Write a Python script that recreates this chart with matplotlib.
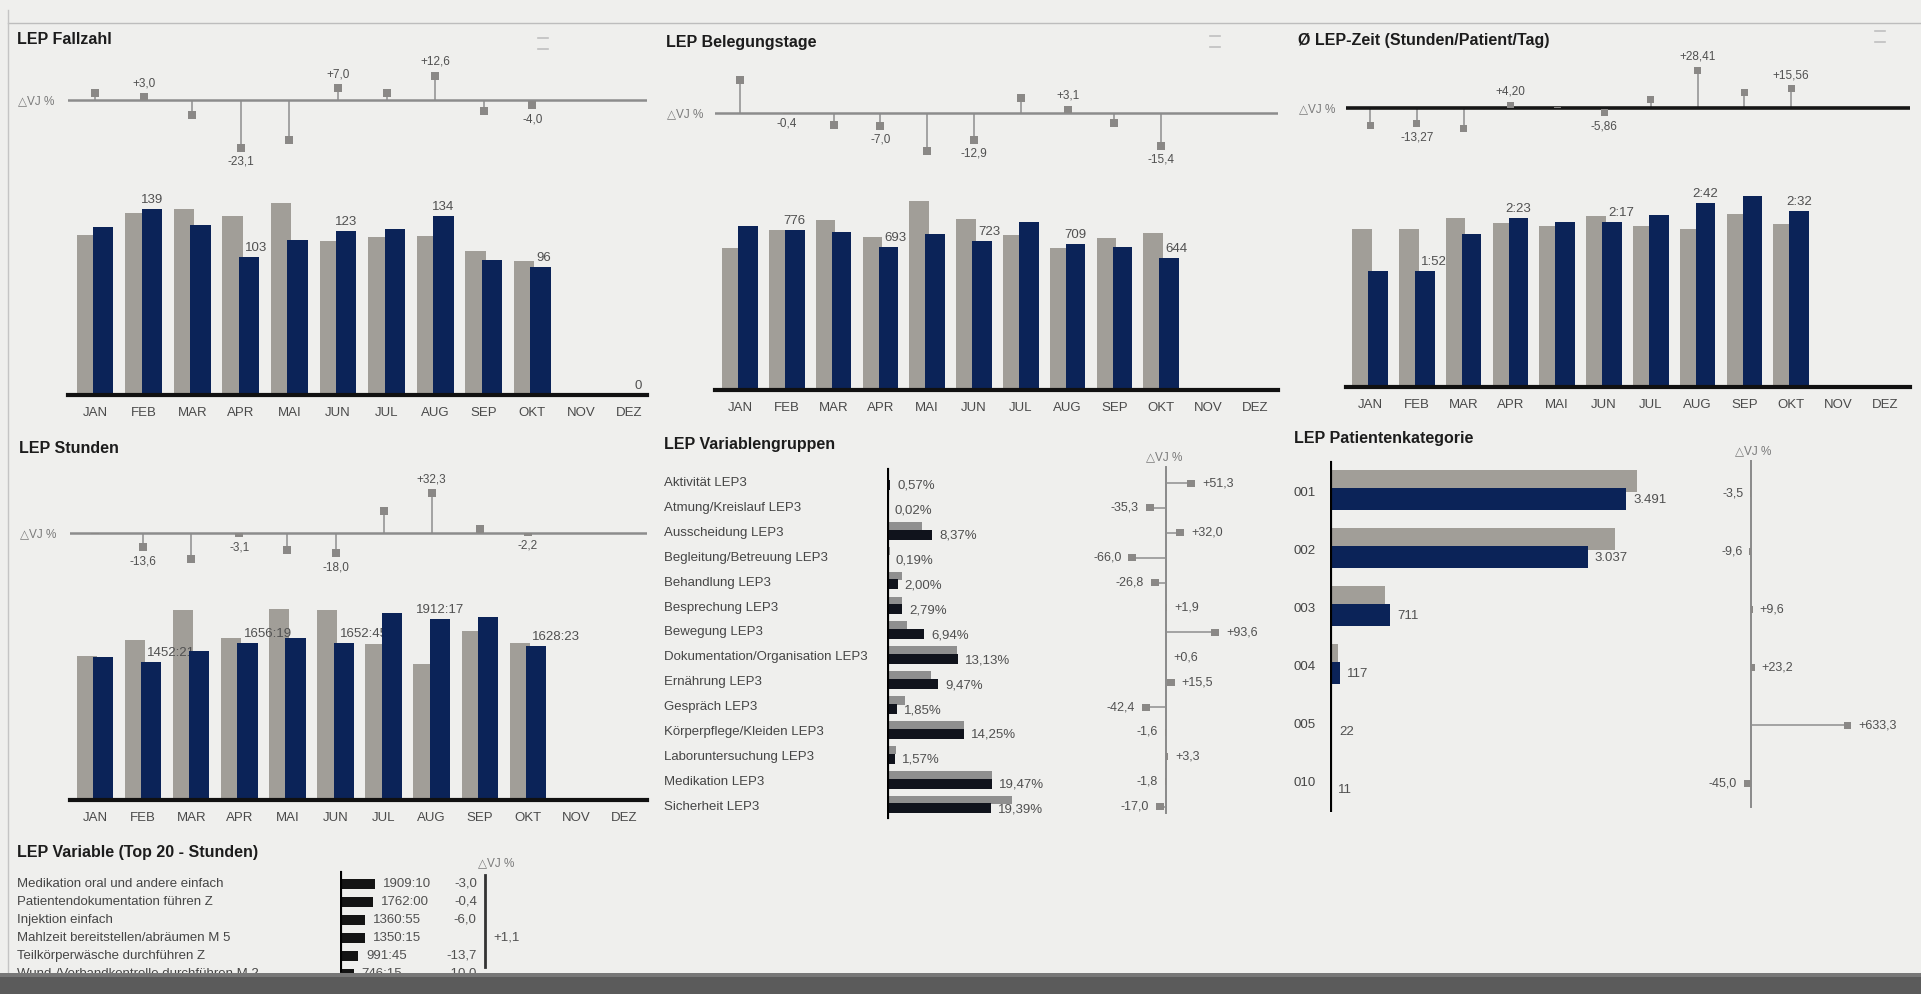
import numpy as np
import matplotlib
matplotlib.use('Agg')
import matplotlib.pyplot as plt
from matplotlib import transforms
from matplotlib.lines import Line2D
from matplotlib.patches import Rectangle

nan = np.nan
months = ['JAN', 'FEB', 'MAR', 'APR', 'MAI', 'JUN', 'JUL', 'AUG', 'SEP', 'OKT', 'NOV', 'DEZ']

# LEP Fallzahl
fall_prev = [120, 136, 139, 134, 144, 115, 118, 119, 108, 100, nan, nan]
fall_curr = [126, 139, 127, 103, 116, 123, 124, 134, 101, 96, nan, 0]
fall_dvj = [5.0, 3.0, -8.6, -23.1, -19.4, 7.0, 5.1, 12.6, -6.5, -4.0, nan, nan]

# LEP Belegungstage
beleg_prev = [692, 779, 826, 745, 919, 830, 754, 688, 737, 761, nan, nan]
beleg_curr = [799, 776, 770, 693, 757, 723, 815, 709, 695, 644, nan, nan]
beleg_dvj = [15.5, -0.4, -6.8, -7.0, -17.6, -12.9, 8.1, 3.1, -5.7, -15.4, nan, nan]

# Ø LEP-Zeit (h.mm values as plotted)
zeit_prev = [2.08, 2.08, 2.23, 2.16, 2.12, 2.25, 2.12, 2.08, 2.28, 2.14, nan, nan]
zeit_curr = [1.52, 1.52, 2.01, 2.23, 2.17, 2.17, 2.26, 2.42, 2.51, 2.32, nan, nan]
zeit_dvj = [-14.7, -13.27, -16.5, 4.20, 0.8, -5.86, 8.2, 28.41, 13.4, 15.56, nan, nan]

# LEP Stunden (hours)
stund_prev = [1518, 1687, 2007, 1708, 2021, 2011, 1644, 1437, 1785, 1655, nan, nan]
stund_curr = [1514, 1452.35, 1577, 1656.3167, 1715, 1652.75, 1972, 1912.2833, 1937, 1628.3833, nan, nan]
stund_dvj = [-0.5, -13.6, -22.5, -3.1, -15.4, -18.0, 19.5, 32.3, 6.0, -2.2, nan, nan]

# LEP Variablengruppen
vg_cats = ['Aktivität LEP3', 'Atmung/Kreislauf LEP3', 'Ausscheidung LEP3', 'Begleitung/Betreuung LEP3',
           'Behandlung LEP3', 'Besprechung LEP3', 'Bewegung LEP3', 'Dokumentation/Organisation LEP3',
           'Ernährung LEP3', 'Gespräch LEP3', 'Körperpflege/Kleiden LEP3', 'Laboruntersuchung LEP3',
           'Medikation LEP3', 'Sicherheit LEP3']
vg_curr = [0.57, 0.02, 8.37, 0.19, 2.00, 2.79, 6.94, 13.13, 9.47, 1.85, 14.25, 1.57, 19.47, 19.39]
vg_prev = [0.3, 0.03, 6.5, 0.5, 2.8, 2.8, 3.7, 13.1, 8.2, 3.4, 14.4, 1.7, 19.6, 23.3]
vg_dvj = [51.3, -35.3, 32.0, -66.0, -26.8, 1.9, 93.6, 0.6, 15.5, -42.4, -1.6, 3.3, -1.8, -17.0]

# LEP Patientenkategorie
pk_cats = ['001', '002', '003', '004', '005', '010']
pk_curr = [3491, 3037, 711, 117, 22, 11]
pk_prev = [3618, 3360, 649, 95, 3, 20]
pk_dvj = [-3.5, -9.6, 9.6, 23.2, 633.3, -45.0]

# LEP Variable (Top 20 - Stunden)
tv_names = ['Medikation oral und andere einfach', 'Patientendokumentation führen Z', 'Injektion einfach',
            'Mahlzeit bereitstellen/abräumen M 5', 'Teilkörperwäsche durchführen Z',
            'Wund-/Verbandkontrolle durchführen M 2']
tv_hours = [1909 + 10/60, 1762.0, 1360 + 55/60, 1350 + 15/60, 991 + 45/60, 746 + 15/60]
tv_dvj = [-3.0, -0.4, -6.0, 1.1, -13.7, -10.0]

# ---------------------------------------------------------------- styling
W, H = 1921, 994
BG = '#efefed'
GREY = '#a19e98'
NAVY = '#0b2358'
STEMC = '#8e8e8e'
MARKC = '#8a8886'
TXT = '#505050'
LBL = '#454545'

plt.rcParams['font.family'] = ['Liberation Sans', 'DejaVu Sans']
fig = plt.figure(figsize=(W / 100, H / 100), dpi=100)
fig.patch.set_facecolor(BG)


def px_axes(x0, y0, x1, y1):
    ax = fig.add_axes([x0 / W, 1 - y1 / H, (x1 - x0) / W, (y1 - y0) / H])
    ax.set_axis_off()
    return ax


def ftext(x, y, s, **kw):
    return fig.text(x / W, 1 - y / H, s, **kw)


def title(x, y, s):
    ftext(x, y, s, fontsize=11.5, fontweight='bold', color='#1c1c1c', va='center', ha='left')


def fmt1(v):
    return f"{v:+.1f}".replace('.', ',')


def fmt2(v):
    return f"{v:+.2f}".replace('.', ',')


def hm(v):
    h = int(v)
    m = int(round((v - h) * 60))
    return f"{h}:{m:02d}"


def inner_end(vals, mark_len):
    v = np.asarray(vals, float)
    return np.sign(v) * np.maximum(np.abs(v) - mark_len, 0)


def month_panel(ttl, txy, x0, x1, tick0, step, stem_y, stem_scale, stem_lw, stem_col,
                bar_y, bar_top, unit_px, prev, curr, dvj, bar_fmt, dvj_fmt, bar_idx, mpx=8):
    title(txy[0], txy[1], ttl)
    ftext(txy[0] + 1, stem_y + 1, '△VJ %', fontsize=8.5, color='#7a7a7a', va='center')
    xl = ((x0 - tick0) / step, (x1 - tick0) / step)
    up, down = 60, 80
    sa = px_axes(x0, stem_y - up, x1, stem_y + down)
    sa.set_xlim(xl)
    sa.set_ylim(-down / stem_scale, up / stem_scale)
    idx = np.arange(len(months))
    d = np.asarray(dvj, float)
    ok = ~np.isnan(d)
    inner = inner_end(d[ok], mpx / stem_scale)
    sa.vlines(idx[ok], 0, d[ok], color=STEMC, lw=1.1, zorder=1)
    sa.bar(idx[ok], d[ok] - inner, bottom=inner, width=mpx / step, color=MARKC, zorder=3)
    sa.axhline(0, color=stem_col, lw=stem_lw, zorder=2)
    for i in bar_idx:
        if np.isnan(d[i]):
            continue
        pos = d[i] >= 0
        sa.annotate(dvj_fmt(d[i]), (i, d[i]), xytext=(0, 4 if pos else -4), textcoords='offset pixels',
                    ha='center', va='bottom' if pos else 'top', fontsize=8.5, color=TXT,
                    annotation_clip=False)
    ba = px_axes(x0, bar_top, x1, bar_y)
    ba.set_xlim(xl)
    ba.set_ylim(0, (bar_y - bar_top) / unit_px)
    p = np.asarray(prev, float)
    c = np.asarray(curr, float)
    ba.bar(idx - 0.17, p, width=0.42, color=GREY, zorder=3)
    ba.bar(idx + 0.17, c, width=0.42, color=NAVY, zorder=4)
    ba.axhline(0, color='#111111', lw=3, zorder=5, clip_on=False)
    for i, m in enumerate(months):
        ba.annotate(m, (i, 0), xytext=(0, -18), textcoords='offset pixels', ha='center', va='center',
                    fontsize=9.5, color='#4a4a4a', annotation_clip=False)
    for i in bar_idx:
        if np.isnan(c[i]):
            continue
        if not np.isnan(p[i]) and p[i] > c[i] * 1.01:
            x, ha = i + 0.09, 'left'
        else:
            x, ha = i + 0.17, 'center'
        ba.annotate(bar_fmt(c[i]), (x, c[i]), xytext=(0, 3), textcoords='offset pixels', ha=ha,
                    va='bottom', fontsize=9.5, color=TXT, zorder=3.5, annotation_clip=False)


lbl_idx = [1, 3, 5, 7, 9]
month_panel('LEP Fallzahl', (17, 40), 68, 647, 95, 48.6, 100, 2.25, 1.8, '#8c8c8c',
            395, 160, 1.336, fall_prev, fall_curr, fall_dvj, lambda v: f"{v:.0f}", fmt1,
            lbl_idx + [11])
month_panel('LEP Belegungstage', (666, 43), 715, 1278, 740, 46.8, 113, 2.4, 1.8, '#8c8c8c',
            390, 160, 0.2057, beleg_prev, beleg_curr, beleg_dvj, lambda v: f"{v:.0f}", fmt1, lbl_idx)
month_panel('Ø LEP-Zeit (Stunden/Patient/Tag)', (1298, 40), 1346, 1910, 1370, 46.8, 108, 1.45, 2.6,
            '#161616', 387, 160, 76.0, zeit_prev, zeit_curr, zeit_dvj,
            lambda v: f"{v:.2f}".replace('.', ':'), fmt2, lbl_idx, mpx=7)
month_panel('LEP Stunden', (19, 448), 70, 647, 95, 48.1, 533, 1.35, 1.8, '#8c8c8c',
            800, 560, 0.0947, stund_prev, stund_curr, stund_dvj, hm, fmt1, lbl_idx)

# ---------------------------------------------------------------- Variablengruppen
title(664, 445, 'LEP Variablengruppen')
rows = np.arange(len(vg_cats))
row0, rstep = 483, 24.9
ytop, ybot = 465, 820
ylim_vg = ((ybot - row0) / rstep, (ytop - row0) / rstep)
va_ = px_axes(887, ytop, 1060, ybot)
va_.set_xlim(0, 173 / 5.38)
va_.set_ylim(*ylim_vg)
va_.barh(rows - 0.27, vg_prev, height=0.34, color='#8f8f8f', zorder=2)
va_.barh(rows + 0.07, vg_curr, height=0.40, color='#10131c', zorder=3)
va_.axvline(0, ymin=(ybot - 817) / (ybot - ytop), ymax=(ybot - 470) / (ybot - ytop),
            color='black', lw=3, zorder=4)
trans = transforms.blended_transform_factory(fig.transFigure, va_.transData)
for i, (name, v) in enumerate(zip(vg_cats, vg_curr)):
    va_.text(664 / W, i, name, transform=trans, ha='left', va='center', fontsize=9.5, color=LBL)
    va_.annotate(f"{v:.2f}%".replace('.', ','), (v, i + 0.12), xytext=(7, 0), textcoords='offset pixels',
                 ha='left', va='center', fontsize=9.5, color=TXT, annotation_clip=False)

VG_SCALE = 0.57
ftext(1164, 457, '△VJ %', fontsize=8.5, color='#7a7a7a', ha='center', va='center')
vd = px_axes(1090, ytop, 1270, ybot)
vd.set_xlim((1090 - 1166) / VG_SCALE, (1270 - 1166) / VG_SCALE)
vd.set_ylim(*ylim_vg)
vd.axvline(0, ymin=(ybot - 813) / (ybot - ytop), ymax=(ybot - 467) / (ybot - ytop), color='#8a8a8a', lw=1.4)
vd.hlines(rows, 0, vg_dvj, color=STEMC, lw=1.1)
vin = inner_end(vg_dvj, 8 / VG_SCALE)
vd.barh(rows, np.asarray(vg_dvj) - vin, left=vin, height=7 / rstep, color=MARKC, zorder=3)
for i, v in enumerate(vg_dvj):
    pos = v >= 0
    vd.annotate(fmt1(v), (v, i), xytext=(7 if pos else -7, 0), textcoords='offset pixels',
                ha='left' if pos else 'right', va='center', fontsize=9, color=TXT, annotation_clip=False)

# ---------------------------------------------------------------- Patientenkategorie
title(1294, 438, 'LEP Patientenkategorie')
prow = np.arange(len(pk_cats))
p0, pstep = 493, 58
ptop, pbot = 460, 812
ylim_pk = ((pbot - p0) / pstep, (ptop - p0) / pstep)
pa = px_axes(1330, ptop, 1700, pbot)
pa.set_xlim(0, 370 / 0.0848)
pa.set_ylim(*ylim_pk)
pa.barh(prow - 0.21, pk_prev, height=0.37, color=GREY, zorder=2)
pa.barh(prow + 0.10, pk_curr, height=0.38, color=NAVY, zorder=3)
pa.axvline(0, ymin=0, ymax=(pbot - 463) / (pbot - ptop), color='black', lw=3, zorder=4)
ptrans = transforms.blended_transform_factory(fig.transFigure, pa.transData)
for i, (name, v) in enumerate(zip(pk_cats, pk_curr)):
    pa.text(1294 / W, i, name, transform=ptrans, ha='left', va='center', fontsize=9.5, color=LBL)
    pa.annotate(f"{v:,.0f}".replace(',', '.'), (v, i + 0.12), xytext=(7, 0), textcoords='offset pixels',
                ha='left', va='center', fontsize=9.5, color=TXT, annotation_clip=False)

PK_SCALE = 0.158
ftext(1753, 451, '△VJ %', fontsize=8.5, color='#7a7a7a', ha='center', va='center')
pd_ = px_axes(1700, ptop, 1915, pbot)
pd_.set_xlim((1700 - 1751) / PK_SCALE, (1915 - 1751) / PK_SCALE)
pd_.set_ylim(*ylim_pk)
pd_.axvline(0, ymin=(pbot - 807) / (pbot - ptop), ymax=(pbot - 460) / (pbot - ptop), color='#8a8a8a', lw=1.4)
pd_.hlines(prow, 0, pk_dvj, color=STEMC, lw=1.1)
pin = inner_end(pk_dvj, 7 / PK_SCALE)
pd_.barh(prow, np.asarray(pk_dvj) - pin, left=pin, height=7 / pstep, color=MARKC, zorder=3)
for i, v in enumerate(pk_dvj):
    pos = v >= 0
    pd_.annotate(fmt1(v), (v, i), xytext=(7 if pos else -7, 0), textcoords='offset pixels',
                 ha='left' if pos else 'right', va='center', fontsize=9, color=TXT, annotation_clip=False)

# ---------------------------------------------------------------- Top 20
title(17, 852, 'LEP Variable (Top 20 - Stunden)')
trow = np.arange(len(tv_names))
t0, tstep = 884, 18
ttop, tbot = 870, 990
ylim_tv = ((tbot - t0) / tstep, (ttop - t0) / tstep)
ta = px_axes(340, ttop, 470, tbot)
ta.set_xlim(0, 130 / 0.0185)
ta.set_ylim(*ylim_tv)
ta.barh(trow, tv_hours, height=0.6, color='#141414', zorder=2)
ta.axvline(0, ymin=(tbot - 970) / (tbot - ttop), ymax=(tbot - 873) / (tbot - ttop), color='black', lw=3)
ttrans = transforms.blended_transform_factory(fig.transFigure, ta.transData)
for i, (name, v) in enumerate(zip(tv_names, tv_hours)):
    ta.text(17 / W, i, name, transform=ttrans, ha='left', va='center', fontsize=9.5, color=LBL)
    ta.annotate(hm(v), (v, i), xytext=(8, 0), textcoords='offset pixels', ha='left', va='center',
                fontsize=9.5, color=TXT, annotation_clip=False)

ftext(496, 863, '△VJ %', fontsize=8.5, color='#7a7a7a', ha='center', va='center')
td = px_axes(470, ttop, 540, tbot)
td.set_xlim(-300, 1100)
td.set_ylim(*ylim_tv)
td.axvline(0, ymin=(tbot - 967) / (tbot - ttop), ymax=(tbot - 875) / (tbot - ttop), color='#333333', lw=2)
for i, v in enumerate(tv_dvj):
    pos = v >= 0
    td.annotate(fmt1(v), (v, i), xytext=(8 if pos else -8, 0),
                textcoords='offset pixels', ha='left' if pos else 'right', va='center', fontsize=9.5,
                color=TXT, annotation_clip=False)

# ---------------------------------------------------------------- decoration
fig.add_artist(Line2D([8 / W, 1], [1 - 23 / H, 1 - 23 / H], transform=fig.transFigure, color='#bdbdbd', lw=1))
fig.add_artist(Line2D([8 / W, 8 / W], [1 - 10 / H, 1 - 973 / H], transform=fig.transFigure, color='#c4c4c4', lw=1))
for ix, iy in [(543, 38), (1215, 36), (1880, 31)]:
    for dy in (0, 11):
        fig.add_artist(Line2D([(ix - 5) / W, (ix + 5) / W], [1 - (iy + dy) / H] * 2,
                              transform=fig.transFigure, color='#c0c0c0', lw=1.2))
fig.add_artist(Rectangle((0, 0), 1, 21 / H, transform=fig.transFigure, facecolor='#5b5b5b',
                         edgecolor='none', zorder=10))
fig.add_artist(Rectangle((0, 17 / H), 1, 4 / H, transform=fig.transFigure, facecolor='#777777',
                         edgecolor='none', zorder=11))

fig.savefig('out.png', dpi=100, facecolor=BG)
